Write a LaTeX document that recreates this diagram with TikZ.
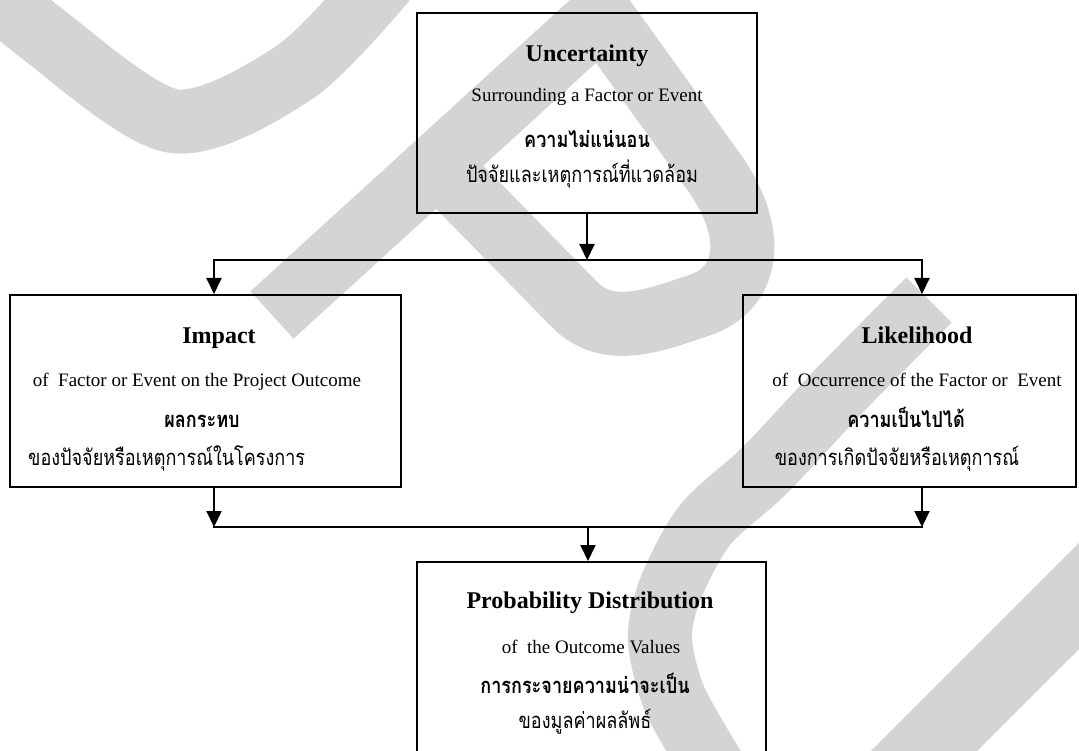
\documentclass[tikz,border=0pt]{standalone}
\usepackage{fontspec}
\setmainfont{Liberation Serif}
\newfontfamily\thaifont[Script=Thai,FakeStretch=0.82]{Loma}
\usetikzlibrary{arrows.meta}
\tikzset{
  box/.style={draw,line width=2pt,inner sep=0pt},
  arr/.style={-{Triangle[width=15pt,length=16pt]},line width=2pt},
  bar/.style={line width=2pt,line cap=rect},
  wm/.style={draw=black!17,line width=64pt},
  ttl/.style={font=\fontsize{24}{28}\selectfont\bfseries,inner sep=0pt,anchor=base},
  sub/.style={font=\fontsize{19}{22}\selectfont,inner sep=0pt,anchor=base},
  thb/.style={font=\thaifont\bfseries\fontsize{22}{26}\selectfont,inner sep=0pt,anchor=base},
  thr/.style={font=\thaifont\fontsize{22}{26}\selectfont,inner sep=0pt,anchor=base},
}
\begin{document}
\begin{tikzpicture}[x=1pt,y=-1pt]
      \clip (0,0) rectangle (1079,751);
      \fill[white] (0,0) rectangle (1079,751);
      \draw[wm] plot[smooth] coordinates {(-40,-38) (40,32) (173,121) (295,72) (385,-20)};
      \draw[wm,line join=miter] (272,315) -- (601,15) -- (716,175) .. controls (760,240) and (745,290) .. (700,305) .. controls (660,318) and (610,340) .. (575,305) -- (435,162);
      \draw[wm] plot[smooth] coordinates {(929,300) (840,390) (765,470) (705,525) (670,590) (660,640) (675,700) (715,770)};
      \draw[wm,line width=75pt] (1240,435) -- (850,825);
      \node[box,minimum width=340pt,minimum height=200pt] (unc) at (587,113) {};
      \node[box,minimum width=391pt,minimum height=192pt] (imp) at (205.5,391) {};
      \node[box,minimum width=333pt,minimum height=192pt] (lik) at (909.5,391) {};
      \node[box,minimum width=349pt,minimum height=200pt] (prob) at (591.5,662) {};
      \node[ttl] (unct) at (587,62) {Uncertainty};
      \node[sub] (uncs) at (587,102) {Surrounding a Factor or Event};
      \node[thb] (uncb) at (587,148) {ความไม่แน่นอน};
      \node[thr] (uncr) at (582,183) {ปัจจัยและเหตุการณ์ที่แวดล้อม};
      \node[ttl] (impt) at (219,343) {Impact};
      \node[sub] (imps) at (197,386) {of\ \ Factor or Event on the Project Outcome};
      \node[thb] (impb) at (202,427) {ผลกระทบ};
      \node[thr,anchor=base west] (impr) at (28,465) {ของปัจจัยหรือเหตุการณ์ในโครงการ};
      \node[ttl] (likt) at (917,343) {Likelihood};
      \node[sub] (liks) at (917,386) {of\ \ Occurrence of the Factor or\ \ Event};
      \node[thb] (likb) at (906,427) {ความเป็นไปได้};
      \node[thr] (likr) at (897,465) {ของการเกิดปัจจัยหรือเหตุการณ์};
      \node[ttl] (probt) at (590,608) {Probability Distribution};
      \node[sub] (probs) at (591,653) {of\ \ the Outcome Values};
      \node[thb] (probb) at (585,693) {การกระจายความน่าจะเป็น};
      \node[thr] (probr) at (585,728) {ของมูลค่าผลลัพธ์};
      \coordinate (top) at (587,260);
      \coordinate (topL) at (214,260);
      \coordinate (topR) at (922,260);
      \coordinate (botL) at (214,527);
      \coordinate (botR) at (922,527);
      \coordinate (bot) at (588,527);
      \draw[arr] (unc.south) -- (top);
      \draw[bar] (topL) -- (topR);
      \draw[arr] (topL) -- (topL |- imp.north);
      \draw[arr] (topR) -- (topR |- lik.north);
      \draw[arr] (topL |- imp.south) -- (botL);
      \draw[arr] (topR |- lik.south) -- (botR);
      \draw[bar] (botL) -- (botR);
      \draw[arr] (bot) -- (bot |- prob.north);
  \end{tikzpicture}
\end{document}
